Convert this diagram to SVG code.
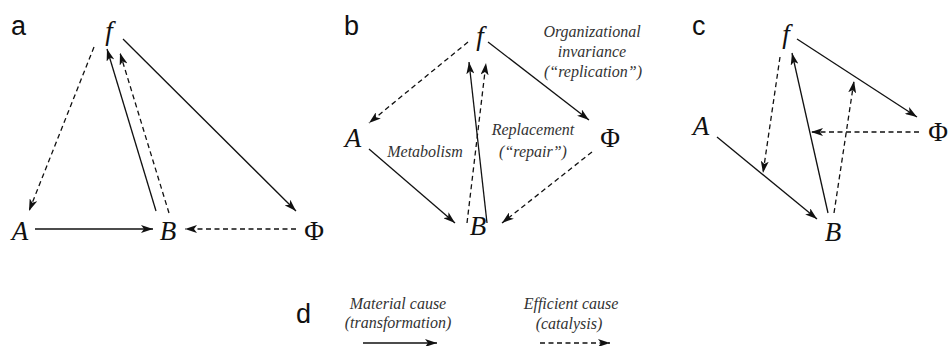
<svg xmlns="http://www.w3.org/2000/svg" width="949" height="346" viewBox="0 0 949 346">
<style>
.m{stroke:#111;stroke-width:1.3;fill:none;marker-end:url(#ah)}
.e{stroke:#111;stroke-width:1.3;fill:none;stroke-dasharray:5,3.5;marker-end:url(#ah)}
</style>
<defs>
<marker id="ah" viewBox="0 0 12 8" refX="12" refY="4" markerWidth="12" markerHeight="8" markerUnits="userSpaceOnUse" orient="auto">
<path d="M0,0 L12,4 L0,8 L3,4 z" fill="#111"/>
</marker>
</defs>
<rect width="949" height="346" fill="#fff"/>

<g id="panel-labels">
<text x="11" y="35" style="font-family:'Liberation Sans',Arial,sans-serif;font-size:27px;fill:#111">a</text>
<text x="344" y="35" style="font-family:'Liberation Sans',Arial,sans-serif;font-size:27px;fill:#111">b</text>
<text x="692" y="35" style="font-family:'Liberation Sans',Arial,sans-serif;font-size:27px;fill:#111">c</text>
<text x="296" y="323" style="font-family:'Liberation Sans',Arial,sans-serif;font-size:27px;fill:#111">d</text>
</g>

<g id="a-f"><text x="109" y="40" style="font-family:'Liberation Serif',serif;font-style:italic;font-size:27px;fill:#111;text-anchor:middle">f</text></g>
<g id="a-A"><text x="20" y="240" style="font-family:'Liberation Serif',serif;font-style:italic;font-size:27px;fill:#111;text-anchor:middle">A</text></g>
<g id="a-B"><text x="168" y="240" style="font-family:'Liberation Serif',serif;font-style:italic;font-size:27px;fill:#111;text-anchor:middle">B</text></g>
<g id="a-Phi"><text x="314" y="240" style="font-family:'Liberation Serif',serif;font-size:27px;fill:#111;text-anchor:middle">Φ</text></g>

<g id="b-f"><text x="480" y="45" style="font-family:'Liberation Serif',serif;font-style:italic;font-size:27px;fill:#111;text-anchor:middle">f</text></g>
<g id="b-A"><text x="353" y="147" style="font-family:'Liberation Serif',serif;font-style:italic;font-size:27px;fill:#111;text-anchor:middle">A</text></g>
<g id="b-B"><text x="478" y="235" style="font-family:'Liberation Serif',serif;font-style:italic;font-size:27px;fill:#111;text-anchor:middle">B</text></g>
<g id="b-Phi"><text x="610" y="147" style="font-family:'Liberation Serif',serif;font-size:27px;fill:#111;text-anchor:middle">Φ</text></g>

<g id="c-f"><text x="786" y="43" style="font-family:'Liberation Serif',serif;font-style:italic;font-size:27px;fill:#111;text-anchor:middle">f</text></g>
<g id="c-A"><text x="701" y="135" style="font-family:'Liberation Serif',serif;font-style:italic;font-size:27px;fill:#111;text-anchor:middle">A</text></g>
<g id="c-B"><text x="833" y="241" style="font-family:'Liberation Serif',serif;font-style:italic;font-size:27px;fill:#111;text-anchor:middle">B</text></g>
<g id="c-Phi"><text x="938" y="141" style="font-family:'Liberation Serif',serif;font-size:27px;fill:#111;text-anchor:middle">Φ</text></g>

<g id="b-labels">
<text x="592" y="37" style="font-family:'Liberation Serif',serif;font-style:italic;font-size:16px;fill:#333;text-anchor:middle">Organizational</text>
<text x="592" y="57" style="font-family:'Liberation Serif',serif;font-style:italic;font-size:16px;fill:#333;text-anchor:middle">invariance</text>
<text x="593" y="77" style="font-family:'Liberation Serif',serif;font-style:italic;font-size:16px;fill:#333;text-anchor:middle">(“replication”)</text>
<text x="425" y="157" style="font-family:'Liberation Serif',serif;font-style:italic;font-size:16px;fill:#333;text-anchor:middle">Metabolism</text>
<text x="533" y="135" style="font-family:'Liberation Serif',serif;font-style:italic;font-size:16px;fill:#333;text-anchor:middle">Replacement</text>
<text x="533" y="157" style="font-family:'Liberation Serif',serif;font-style:italic;font-size:16px;fill:#333;text-anchor:middle">(“repair”)</text>
</g>

<g id="legend">
<text x="398" y="309" style="font-family:'Liberation Serif',serif;font-style:italic;font-size:16px;fill:#333;text-anchor:middle">Material cause</text>
<text x="398" y="328" style="font-family:'Liberation Serif',serif;font-style:italic;font-size:16px;fill:#333;text-anchor:middle">(transformation)</text>
<text x="571" y="309" style="font-family:'Liberation Serif',serif;font-style:italic;font-size:16px;fill:#333;text-anchor:middle">Efficient cause</text>
<text x="569" y="329" style="font-family:'Liberation Serif',serif;font-style:italic;font-size:16px;fill:#333;text-anchor:middle">(catalysis)</text>
</g>

<g id="connectors">
<line class="e" x1="94" y1="47" x2="29" y2="211"/>
<line class="m" x1="156" y1="211" x2="107" y2="49"/>
<line class="e" x1="169" y1="213" x2="120" y2="53"/>
<line class="m" x1="123" y1="39" x2="296" y2="211"/>
<line class="m" x1="35" y1="229" x2="153" y2="229"/>
<line class="e" x1="296" y1="229" x2="185" y2="229"/>
<line class="e" x1="468" y1="42" x2="369" y2="123"/>
<line class="m" x1="488" y1="42" x2="589" y2="120"/>
<line class="m" x1="369" y1="149" x2="455" y2="223"/>
<line class="e" x1="592" y1="152" x2="502" y2="223"/>
<line class="m" x1="487" y1="223" x2="469" y2="62"/>
<line class="e" x1="467" y1="223" x2="486" y2="63"/>
<line class="m" x1="797" y1="39" x2="917" y2="117"/>
<line class="e" x1="780" y1="57" x2="763" y2="173"/>
<line class="m" x1="717" y1="137" x2="817" y2="219"/>
<line class="m" x1="828" y1="213" x2="792" y2="53"/>
<line class="e" x1="834" y1="213" x2="854" y2="81"/>
<line class="e" x1="919" y1="132" x2="811" y2="132"/>
<line class="m" x1="363" y1="343" x2="437" y2="343"/>
<line class="e" x1="540" y1="343" x2="610" y2="343"/>
</g>
</svg>
